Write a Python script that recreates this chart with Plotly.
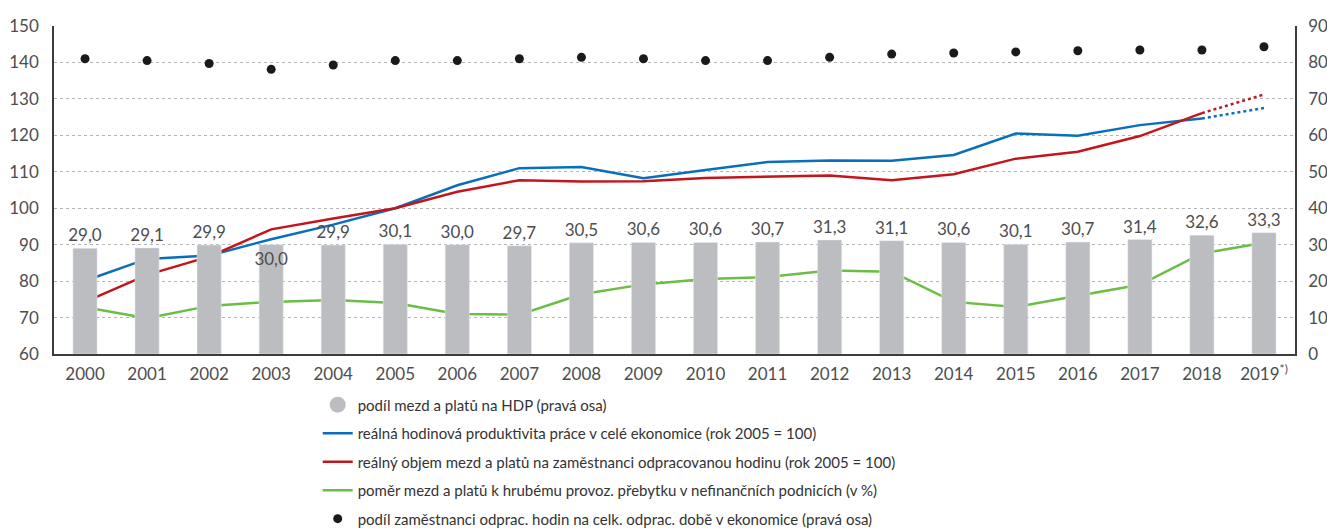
import plotly.graph_objects as go
import numpy as np
import pandas as pd


years = list(range(2000, 2020))
year_labels = [str(y) for y in years[:-1]] + ['2019<sup>*)</sup>']

wage_share_gdp = [29.0, 29.1, 29.9, 30.0, 29.9, 30.1, 30.0, 29.7, 30.5, 30.6,
                  30.6, 30.7, 31.3, 31.1, 30.6, 30.1, 30.7, 31.4, 32.6, 33.3]
productivity = [80.1, 86.1, 87.0, 91.5, 95.5, 100.0, 106.3, 111.0, 111.3, 108.2,
                110.5, 112.7, 113.1, 113.0, 114.6, 120.5, 119.9, 122.8, 124.6, 127.5]
real_wages = [74.3, 81.7, 86.7, 94.2, 97.2, 100.0, 104.5, 107.7, 107.3, 107.4,
              108.3, 108.6, 109.0, 107.7, 109.3, 113.6, 115.5, 119.8, 126.1, 131.2]
wages_to_surplus = [72.8, 69.8, 73.2, 74.3, 74.8, 74.0, 71.0, 70.8, 76.4, 79.1,
                    80.6, 81.1, 82.9, 82.6, 74.3, 72.9, 76.0, 79.0, 87.6, 90.5]
employee_hours_share = [81.0, 80.5, 79.7, 78.1, 79.3, 80.5, 80.5, 81.0, 81.4, 81.0,
                        80.5, 80.5, 81.4, 82.3, 82.6, 82.9, 83.2, 83.4, 83.4, 84.3]

names = ['podíl mezd a platů na HDP (pravá osa)',
         'reálná hodinová produktivita práce v celé ekonomice (rok 2005 = 100)',
         'reálný objem mezd a platů na zaměstnanci odpracovanou hodinu (rok 2005 = 100)',
         'poměr mezd a platů k hrubému provoz. přebytku v nefinančních podnicích (v %)',
         'podíl zaměstnanci odprac. hodin na celk. odprac. době v ekonomice (pravá osa)']


def wage_chart(width, height):

    FONT = 'Lato, Arial'
    GREY = '#bcbdc0'
    TEXT = '#4d4d4f'

    layout = go.Layout(
                        font = dict(family = FONT, color = TEXT, size = 17), #Sets the global font
                        width = width,
                        height = height,
                        margin = dict(l = 54, r = 32, t = 26, b = 174, autoexpand = False),
                        separators = ', ',
                        plot_bgcolor='#FFF',  # Sets background color to white
                        paper_bgcolor='#FFF',
                        bargap = 0.61,
                        xaxis=dict(
                            range = [1999.5, 2019.5],
                            tickmode = 'array',
                            tickvals = years,
                            ticktext = year_labels,
                            tickangle = 0,
                            showgrid = False,
                            linecolor = '#3c3c3c',
                            linewidth = 1.5,
                            ticklabelstandoff = 4,
                            automargin = False
                        ),
                        yaxis=dict(
                            range = [60, 150],
                            dtick = 10,
                            gridcolor = '#b4b4b4',
                            griddash = 'dot',
                            showline = True,
                            linecolor = '#3c3c3c',
                            linewidth = 1.5,
                            zeroline = False,
                            ticklabelstandoff = 10,
                            automargin = False
                        ),
                        yaxis2=dict(
                            range = [0, 90],
                            dtick = 10,
                            overlaying = 'y',
                            side = 'right',
                            showgrid = False,
                            showline = True,
                            linecolor = '#3c3c3c',
                            linewidth = 1.5,
                            zeroline = False,
                            ticklabelstandoff = 8,
                            automargin = False
                        ),
                        legend = dict(
                            x = 0.2125, xanchor = 'left',
                            y = -0.105, yanchor = 'top',
                            font = dict(size = 15, color = '#333'),
                            traceorder = 'grouped',
                            tracegroupgap = 6,
                            itemwidth = 30
                        )
                        )

    fig = go.Figure()

    #Bars on the right axis
    positions = ['inside' if v == 30.0 and y == 2003 else 'outside' for y, v in zip(years, wage_share_gdp)]
    fig.add_trace(go.Bar(x=years, y=wage_share_gdp, yaxis='y2', marker_color=GREY,
                         texttemplate='%{y:.1f}', textposition=positions, insidetextanchor='end',
                         textangle=0, constraintext='none', cliponaxis=False,
                         textfont=dict(color=TEXT, size=17), showlegend=False))
    fig.add_trace(go.Scatter(x=[None], y=[None], mode='markers', name=names[0], legendgroup='g0',
                             marker=dict(size=20, color=GREY)))

    #Lines on the left axis, last year dotted
    for i, (vals, color) in enumerate([(productivity, '#0a6fba'), (real_wages, '#c3161c')]):
        fig.add_trace(go.Scatter(x=years[:-1], y=vals[:-1], mode='lines', name=names[i + 1],
                                 legendgroup='g%d' % (i + 1), line=dict(color=color, width=2.5)))
        fig.add_trace(go.Scatter(x=years[-2:], y=vals[-2:], mode='lines', legendgroup='g%d' % (i + 1),
                                 line=dict(color=color, width=2.5, dash='dot'), showlegend=False))

    fig.add_trace(go.Scatter(x=years, y=wages_to_surplus, mode='lines', name=names[3], legendgroup='g3',
                             line=dict(color='#6bbd45', width=2.5)))

    fig.add_trace(go.Scatter(x=years, y=employee_hours_share, yaxis='y2', mode='markers', name=names[4],
                             legendgroup='g4', marker=dict(size=9, color='#1a1a1a')))

    fig.update_layout(layout)
    return fig


fig = wage_chart(1327, 528)
fig.write_html('out.html', config = {'displayModeBar': False},
               post_script="document.body.style.margin = '0';")  # page without body margin
